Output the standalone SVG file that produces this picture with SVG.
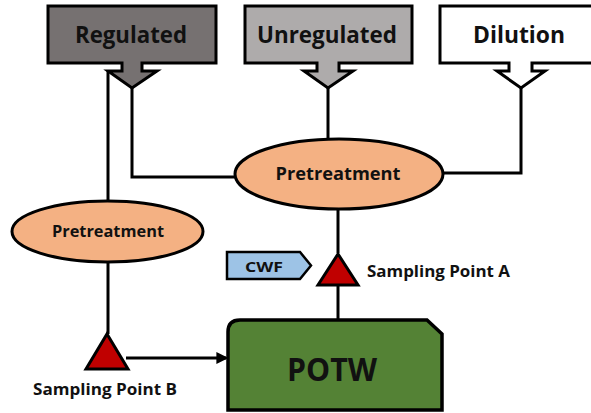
<svg xmlns="http://www.w3.org/2000/svg" width="591" height="413" viewBox="0 0 591 413">
<style>
.box{stroke:#000;stroke-width:3;stroke-linejoin:miter}
.lbl{font-family:"Open Sans","Liberation Sans",sans-serif;font-weight:700;fill:#111;text-anchor:middle}
.ln{stroke:#000;stroke-width:3;fill:none}
.ell{fill:#F4B183;stroke:#000;stroke-width:3}
.tri{fill:#C00000;stroke:#000;stroke-width:3;stroke-linejoin:miter}
</style>
<defs>
<marker id="ah" markerWidth="4" markerHeight="4" refX="3.2" refY="2" orient="auto" markerUnits="strokeWidth">
<path d="M0,0 L4,2 L0,4 Z" fill="#000"/>
</marker>
</defs>
<rect width="591" height="413" fill="#fff"/>
<g id="connectors">
<path class="ln" d="M108,71 V201"/>
<path class="ln" d="M108,262 V334"/>
<path class="ln" d="M132,86 V177 H236"/>
<path class="ln" d="M328,86 V139"/>
<path class="ln" d="M521,86 V173 H442"/>
<path class="ln" d="M338,209 V253"/>
<path class="ln" d="M338,285 V320"/>
<path class="ln" d="M126,358 H226" marker-end="url(#ah)"/>
</g>
<g id="regulated">
<path class="box" fill="#767171" d="M48,6 H216 V63 H142 V71 H157 L132,88 L108,71 H122 V63 H48 Z"/>
<text class="lbl" x="131" y="43" font-size="23" textLength="112" lengthAdjust="spacingAndGlyphs">Regulated</text>
</g>
<g id="unregulated">
<path class="box" fill="#AEABAB" d="M245,6 H412 V63 H339 V71 H353 L328,88 L304,71 H317 V63 H245 Z"/>
<text class="lbl" x="327" y="43" font-size="23" textLength="140" lengthAdjust="spacingAndGlyphs">Unregulated</text>
</g>
<g id="dilution">
<path class="box" fill="#fff" d="M440,6 H600 V63 H532 V71 H545 L521,88 L497,71 H509 V63 H440 Z"/>
<text class="lbl" x="519" y="43" font-size="23" textLength="92" lengthAdjust="spacingAndGlyphs">Dilution</text>
</g>
<g id="pretreatment-main">
<ellipse class="ell" cx="339" cy="174" rx="104" ry="35"/>
<text class="lbl" x="338" y="180" font-size="18" textLength="125" lengthAdjust="spacingAndGlyphs">Pretreatment</text>
</g>
<g id="pretreatment-left">
<ellipse class="ell" cx="107.5" cy="231.5" rx="95.5" ry="30.5"/>
<text class="lbl" x="108" y="237" font-size="16" textLength="112" lengthAdjust="spacingAndGlyphs">Pretreatment</text>
</g>
<g id="cwf">
<path d="M227,252 H300 L311,265.5 L300,279 H227 Z" fill="#9DC3E6" stroke="#000" stroke-width="2.5"/>
<text class="lbl" x="264" y="272" font-size="15" textLength="38" lengthAdjust="spacingAndGlyphs">CWF</text>
</g>
<g id="sampling-a">
<path class="tri" d="M338,254 L358,285 L318,285 Z"/>
<text class="lbl" x="438.5" y="277" font-size="16.5" textLength="143" lengthAdjust="spacingAndGlyphs">Sampling Point A</text>
</g>
<g id="sampling-b">
<path class="tri" d="M107,334 L128,369 L86,369 Z"/>
<text class="lbl" x="105" y="395" font-size="16.5" textLength="144" lengthAdjust="spacingAndGlyphs">Sampling Point B</text>
</g>
<g id="potw">
<path d="M240,320 H427 L442,334 V410 H228 V332 Q228,320 240,320 Z" fill="#548235" stroke="#000" stroke-width="3.5"/>
<text class="lbl" x="332" y="381" font-size="33" textLength="90" lengthAdjust="spacingAndGlyphs">POTW</text>
</g>
</svg>
